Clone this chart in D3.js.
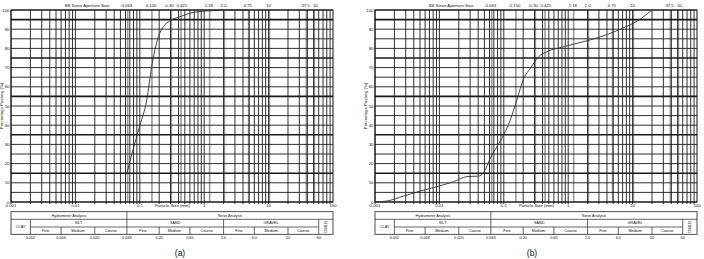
<!DOCTYPE html>
<html><head><meta charset="utf-8">
<script src="https://cdn.jsdelivr.net/npm/d3@7"></script>
<style>body{margin:0;background:#fff}svg{display:block}text{font-family:"Liberation Sans",Arial,sans-serif;fill:#111}</style>
</head><body><svg id="c" width="704" height="259"></svg>
<script>
// Data
const sizeA = [0.0626,0.0827,0.1007,0.128,0.153,0.194,0.232,0.294,0.42,0.6,1.1,2.8,4.75];
const passA = [14.6,30,40,53,70.5,86,91.3,94.4,96.5,98.3,99.5,100,100];
const sizeB = [0.001,0.00153,0.00278,0.00505,0.00916,0.0166,0.0267,0.0407,0.0486,0.0617,0.0782,0.0993,0.126,0.159,0.204,0.258,0.348,0.469,0.849,2.2,6.45,13.2,20];
const passB = [0,0.5,3.1,5.7,8,10.6,13.2,13.5,15.3,22.8,28.8,34.9,42.7,53,64.4,69.6,75.7,78.3,80.9,84.4,90,95.3,100];
const xTicks = [0.001,0.01,0.1,1,10,100];
const xTickLabels = ["0.001","0.01","0.1","1","10","100"];
const yTicks = [0,10,20,30,40,50,60,70,80,90,100];
const sieveSizes = [0.063,0.15,0.3,0.425,1.18,2.0,4.75,10,37.5,50];
const sieveLabels = ["0.063","0.150","0.30","0.425","1.18","2.0","4.75","10","37.5","50"];
const sieveOffsets = [0,0,-1,1.5,0,0,0,0,0,2];
const boundSizes = [0.002,0.006,0.02,0.063,0.2,0.6,2,6,20,60];
const boundLabels = ["0.002","0.006","0.020","0.063","0.20","0.60","2.0","6.0","20","60"];
const groups = [["SILT",0.002,0.063],["SAND",0.063,2],["GRAVEL",2,60]];
const subs = ["Fine","Medium","Coarse"];
const panels = [{x0:11,size:sizeA,pass:passA,label:"(a)",lx:180},{x0:375,size:sizeB,pass:passB,label:"(b)",lx:532}];

const svg = d3.select("#c");
const W = 322, yTop = 10, yBot = 202;
panels.forEach(p => {
  const g = svg.append("g");
  const x = d3.scaleLog().domain([0.001,100]).range([p.x0, p.x0+W]);
  const y = d3.scaleLinear().domain([0,100]).range([yBot, yTop]);
  // sieve grey lines
  sieveSizes.forEach(s => g.append("line").attr("x1",x(s)+0.8).attr("x2",x(s)+0.8).attr("y1",yTop).attr("y2",yBot)
    .attr("stroke","#9a9a9a").attr("stroke-width",1.6));
  // log grid
  const minors = [];
  for (let e=-3;e<2;e++) for (let m=1;m<10;m++) minors.push(m*Math.pow(10,e));
  minors.forEach(v => g.append("line").attr("x1",x(v)).attr("x2",x(v)).attr("y1",yTop).attr("y2",yBot+2)
    .attr("stroke","#1a1a1a").attr("stroke-width",0.9));
  // horizontal grid
  for (let v=0; v<=100; v+=5) {
    const thick = (v%20===15);
    g.append("line").attr("x1",p.x0).attr("x2",p.x0+W).attr("y1",y(v)).attr("y2",y(v))
      .attr("stroke","#1a1a1a").attr("stroke-width",thick?1.6:0.9);
  }
  g.append("rect").attr("x",p.x0).attr("y",yTop).attr("width",W).attr("height",yBot-yTop)
    .attr("fill","none").attr("stroke","#111").attr("stroke-width",1);
  // y ticks
  yTicks.forEach(v => g.append("text").attr("x",p.x0-1.5).attr("y",y(v)+1.5).attr("text-anchor","end")
    .attr("font-size",4.3).text(v));
  g.append("text").attr("transform",`translate(${p.x0-8},${106}) rotate(-90)`).attr("text-anchor","middle")
    .attr("font-size",4.3).text("Percentage Passing (%)");
  // x ticks
  xTicks.forEach((v,i) => g.append("text").attr("x",x(v)).attr("y",207).attr("text-anchor","middle")
    .attr("font-size",4.3).text(xTickLabels[i]));
  g.append("text").attr("x",p.x0+161.5).attr("y",207).attr("text-anchor","middle").attr("font-size",4.3).text("Particle Size (mm)");
  // top labels
  g.append("text").attr("x",p.x0+76).attr("y",7).attr("text-anchor","middle").attr("font-size",4.3).text("BS Sieve Aperture Size");
  sieveSizes.forEach((s,i) => g.append("text").attr("x",x(s)+sieveOffsets[i]).attr("y",7).attr("text-anchor","middle")
    .attr("font-size",4.3).text(sieveLabels[i]));
  // curve
  const line = d3.line().x((d,i)=>x(p.size[i])).y((d,i)=>y(p.pass[i])).curve(d3.curveMonotoneX);
  g.append("path").attr("d",line(p.pass)).attr("fill","none").attr("stroke","#333").attr("stroke-width",0.9);
  // table
  const t0=211.7, t1=219.3, t2=227, t3=234.3, xl=p.x0, xr=p.x0+W;
  const tl = (x1,y1,x2,y2,w) => g.append("line").attr("x1",x1).attr("y1",y1).attr("x2",x2).attr("y2",y2).attr("stroke","#222").attr("stroke-width",w||0.7);
  g.append("rect").attr("x",xl).attr("y",t0).attr("width",W).attr("height",t3-t0).attr("fill","none").attr("stroke","#222").attr("stroke-width",0.8);
  tl(xl,t1,xr,t1);
  tl(x(0.002),t2,x(60),t2);
  tl(x(0.063),t0,x(0.063),t3);
  [0.002,2,60].forEach(v=>tl(x(v),t1,x(v),t3));
  [0.006,0.02,0.2,0.6,6,20].forEach(v=>tl(x(v),t2,x(v),t3));
  const tt = (tx,ty,s) => g.append("text").attr("x",tx).attr("y",ty).attr("text-anchor","middle").attr("font-size",3.8).text(s);
  tt((xl+x(0.063))/2,t0+5,"Hydrometer Analysis");
  tt((x(0.063)+xr)/2,t0+5,"Sieve Analysis");
  tt((xl+x(0.002))/2,(t1+t3)/2+1.3,"CLAY");
  groups.forEach(([name,a,b]) => {
    tt((x(a)+x(b))/2,t1+5,name);
    const bs=[a,a*3,a*10,b];
    if(name==="SAND"){bs[1]=0.2;bs[2]=0.6;}
    subs.forEach((s,i)=>tt((x(bs[i])+x(bs[i+1]))/2,t2+5,s));
  });
  g.append("text").attr("transform",`translate(${(x(60)+xr)/2+1.2},${(t1+t3)/2}) rotate(-90)`).attr("text-anchor","middle")
    .attr("font-size",2.6).text("COBBLES");
  boundSizes.forEach((v,i)=>tt(x(v),t3+4.8,boundLabels[i]));
  g.append("text").attr("x",p.lx).attr("y",255.5).attr("text-anchor","middle").attr("font-size",8.5).text(p.label);
});
</script></body></html>
